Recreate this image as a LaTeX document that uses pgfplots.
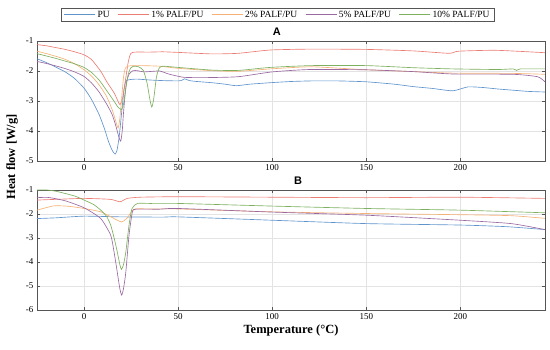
\documentclass[border=0pt]{standalone}
\usepackage{pgfplots}
\pgfplotsset{compat=1.18}
\usepackage{fontspec}
\setmainfont{Liberation Serif}
\setsansfont{Liberation Sans}
\definecolor{cPU}{RGB}{95,148,205}
\definecolor{cA}{RGB}{236,125,115}
\definecolor{cB}{RGB}{246,178,118}
\definecolor{cC}{RGB}{155,105,162}
\definecolor{cD}{RGB}{125,176,95}
\definecolor{frame}{RGB}{85,85,85}
\pgfplotsset{
  dscstyle/.style={
    width=508pt, height=120pt, scale only axis,
    xmin=-25, xmax=245,
    xtick={0,50,100,150,200},
    grid=major, grid style={gray!22, line width=0.6pt},
    axis line style={frame, line width=0.9pt},
    tick align=inside, tick style={frame, line width=0.7pt},
    major tick length=3pt,
    ticklabel style={font=\fontsize{9}{10}\selectfont},
    /pgf/number format/assume math mode=true,
    every axis plot/.append style={line width=0.65pt, smooth, tension=0.35},
    title style={font=\sffamily\bfseries\fontsize{11}{12}\selectfont, yshift=-4pt},
  }
}
\begin{document}
\begin{tikzpicture}
\begin{axis}[dscstyle, name=top,
  ymin=-5, ymax=-1, ytick={-5,-4,-3,-2,-1},
  title={A}, title style={at={(0.472,1)}},
  legend columns=5,
  legend style={at={(0.474,1)}, anchor=south, yshift=19pt,
    draw=frame, line width=0.6pt, font=\fontsize{9.5}{11}\selectfont,
    inner xsep=3pt, inner ysep=1pt,
    /tikz/every even column/.append style={column sep=6pt}},
  legend image code/.code={\draw[#1, line width=0.6pt] (0pt,0pt) -- (31pt,0pt);},
]
\addplot[cPU] coordinates {(-25,-1.59) (-20,-1.72) (-15,-1.87) (-10,-2.03) (-5,-2.25) (0,-2.57) (4,-2.95) (8,-3.45) (11,-3.95) (13,-4.35) (15,-4.65) (16.5,-4.77) (17.5,-4.65) (18.6,-4.23) (19.5,-3.7) (20.4,-3.12) (21.3,-2.6) (22.2,-2.34) (24,-2.29) (28,-2.27) (35,-2.3) (42,-2.32) (50,-2.33) (52,-2.31) (53.5,-2.26) (56,-2.32) (60,-2.35) (68,-2.39) (75,-2.44) (81,-2.49) (88,-2.44) (99,-2.39) (110,-2.35) (121,-2.33) (135,-2.33) (150,-2.36) (165,-2.44) (175,-2.52) (185,-2.58) (196,-2.66) (204,-2.53) (212,-2.55) (220,-2.6) (228,-2.64) (236,-2.68) (245,-2.70)};
\addlegendentry{PU}
\addplot[cA] coordinates {(-25,-1.12) (-20,-1.16) (-15,-1.22) (-10,-1.28) (-5,-1.36) (0,-1.46) (4,-1.62) (8.9,-2.01) (12,-2.35) (16,-2.73) (18,-3.0) (19.1,-3.12) (20.5,-2.9) (22.2,-2.23) (23.5,-1.7) (24.8,-1.42) (27,-1.37) (35,-1.37) (42,-1.36) (50,-1.38) (68,-1.43) (82,-1.41) (99,-1.3) (121,-1.27) (150,-1.28) (175,-1.33) (194,-1.41) (199,-1.34) (219,-1.31) (245,-1.39)};
\addlegendentry{1\% PALF/PU}
\addplot[cB] coordinates {(-25,-1.34) (-20,-1.42) (-15,-1.51) (-10,-1.61) (-5,-1.76) (0,-1.96) (4,-2.17) (8,-2.46) (12,-2.85) (15,-3.3) (17,-3.7) (18.1,-3.9) (19,-3.6) (20,-2.9) (21,-2.2) (22,-1.9) (24,-1.83) (30,-1.82) (40,-1.84) (50,-1.91) (68,-1.99) (82,-2.01) (99,-1.93) (121,-1.86) (150,-1.96) (175,-2.02) (196,-2.07) (228,-2.08) (245,-2.11)};
\addlegendentry{2\% PALF/PU}
\addplot[cC] coordinates {(-25,-1.68) (-20,-1.75) (-15,-1.83) (-10,-1.92) (-5,-2.03) (0,-2.18) (4,-2.4) (8,-2.7) (12,-3.1) (15,-3.46) (17,-3.85) (18.5,-4.2) (19.5,-4.34) (20.3,-4.0) (20.9,-3.46) (21.8,-2.8) (22.7,-2.34) (24,-2.1) (26,-1.99) (28.4,-1.99) (32,-2.03) (40,-2.0) (45,-2.1) (53,-2.21) (65,-2.22) (82,-2.19) (100,-2.03) (120,-1.95) (150,-1.96) (175,-2.02) (196,-2.1) (228,-2.11) (241,-2.19) (245,-2.36)};
\addlegendentry{5\% PALF/PU}
\addplot[cD] coordinates {(-25,-1.42) (-20,-1.5) (-15,-1.58) (-10,-1.67) (-5,-1.76) (0,-1.88) (4,-2.05) (8,-2.3) (12,-2.65) (16,-3.01) (18,-3.2) (19.9,-3.29) (21,-3.1) (22.2,-2.57) (23.5,-2.1) (24.8,-1.9) (26.2,-1.84) (29,-1.86) (31.5,-1.98) (33.5,-2.4) (35,-2.95) (36,-3.2) (37,-2.95) (38.5,-2.2) (40,-1.9) (42,-1.84) (50,-1.88) (68,-1.97) (82,-1.98) (99,-1.88) (121,-1.82) (150,-1.82) (175,-1.89) (196,-1.93) (220,-1.95) (228,-1.93) (230,-1.98) (232,-1.93) (245,-1.93)};
\addlegendentry{10\% PALF/PU}
\end{axis}
\begin{axis}[dscstyle, name=bot, at={(top.south west)}, anchor=north west, yshift=-29pt,
  ymin=-6, ymax=-1, ytick={-6,-5,-4,-3,-2,-1},
  title={B}, title style={at={(0.514,1)}},
  xlabel={Temperature (°C)},
  xlabel style={font=\bfseries\fontsize{12.5}{14}\selectfont, yshift=2pt},
]
\addplot[cPU] coordinates {(-25,-2.19) (-15,-2.16) (0,-2.09) (20,-2.12) (42,-2.13) (50,-2.12) (100,-2.26) (150,-2.40) (200,-2.46) (225,-2.53) (245,-2.65)};
\addplot[cA] coordinates {(-25,-1.42) (-15,-1.39) (0,-1.35) (14,-1.39) (19.1,-1.49) (23,-1.35) (30,-1.3) (50,-1.28) (100,-1.30) (150,-1.32) (200,-1.30) (245,-1.35)};
\addplot[cB] coordinates {(-25,-1.84) (-16,-1.66) (-8,-1.68) (0,-1.77) (8.9,-1.91) (15,-2.15) (19.9,-2.33) (23,-2.16) (26.6,-1.8) (35,-1.79) (50,-1.79) (100,-1.91) (150,-1.98) (200,-2.03) (227,-2.07) (245,-2.18)};
\addplot[cC] coordinates {(-25,-1.32) (-19,-1.31) (-10,-1.45) (0,-1.74) (8.9,-2.19) (14.2,-2.89) (16,-3.6) (17.4,-4.29) (19,-5.1) (20,-5.38) (21,-5.1) (22.2,-4.43) (23.9,-2.89) (25.7,-1.91) (27.5,-1.8) (40,-1.8) (50,-1.77) (100,-1.92) (150,-2.05) (200,-2.26) (227,-2.40) (245,-2.65)};
\addplot[cD] coordinates {(-25,-1.0) (-20,-1.0) (-15,-1.05) (-5,-1.25) (0,-1.42) (5,-1.6) (8.9,-1.84) (12,-2.1) (14.2,-2.47) (16,-3.0) (17.7,-3.59) (19,-4.1) (19.9,-4.31) (21,-4.1) (22.2,-3.59) (23.9,-2.47) (25.5,-1.77) (28.4,-1.56) (35,-1.56) (50,-1.56) (100,-1.67) (150,-1.77) (200,-1.84) (245,-1.95)};
\end{axis}
\node[rotate=90, font=\bfseries\fontsize{12.5}{14}\selectfont] at ([xshift=-25pt, yshift=-116pt]top.north west) {Heat flow [W/g]};
\path (top.north west) ++(-37pt,41pt) rectangle ++(550pt,-349pt);
\end{tikzpicture}
\end{document}
